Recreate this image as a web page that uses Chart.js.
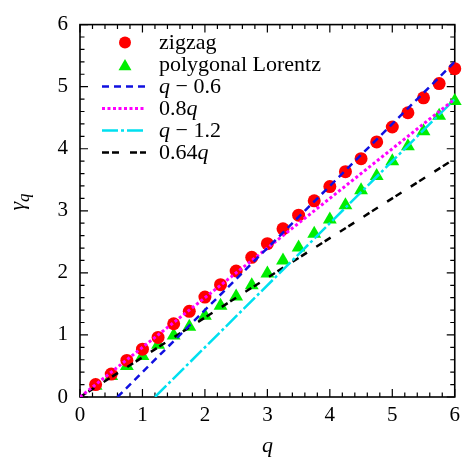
<!DOCTYPE html>
<html><head><meta charset="utf-8">
<script src="https://cdn.jsdelivr.net/npm/chart.js@4/dist/chart.umd.min.js"></script>
<style>html,body{margin:0;padding:0;background:#fff}#wrap{width:466px;height:459px}</style>
</head><body><div id="wrap"><canvas id="c" width="466" height="459"></canvas></div>
<script>
// ---- data ----
const qValues = [0.25,0.5,0.75,1,1.25,1.5,1.75,2,2.25,2.5,2.75,3,3.25,3.5,3.75,4,4.25,4.5,4.75,5,5.25,5.5,5.75,6];
const zigzag = [0.20,0.37,0.59,0.77,0.96,1.18,1.38,1.61,1.81,2.03,2.25,2.47,2.71,2.93,3.16,3.39,3.63,3.84,4.11,4.35,4.58,4.82,5.05,5.29];
const polygonalLorentz = [0.18,0.34,0.50,0.66,0.84,0.99,1.13,1.31,1.47,1.62,1.80,1.99,2.20,2.41,2.63,2.86,3.09,3.33,3.56,3.80,4.04,4.28,4.53,4.77];
const lineQminus06 = [[0.6,0],[6,5.4]];
const line08q = [[0,0],[6,4.8]];
const lineQminus12 = [[1.2,0],[6,4.8]];
const line064q = [[0,0],[6,3.84]];
const xTicks = [0,1,2,3,4,5,6];
const yTicks = [0,1,2,3,4,5,6];
const seriesLabels = ['zigzag','polygonal Lorentz','q − 0.6','0.8q','q − 1.2','0.64q'];

const SERIF = '"Liberation Serif", "DejaVu Serif", serif';
const pts = (xs, ys) => xs.map((x, i) => ({x, y: ys[i]}));
const seg = a => a.map(p => ({x: p[0], y: p[1]}));

const datasets = [
  {label: seriesLabels[0], data: pts(qValues, zigzag), pointStyle: 'circle', pointRadius: 6.5,
   backgroundColor: '#ff0000', borderWidth: 0, showLine: false, order: 2, clip: false},
  {label: seriesLabels[1], data: pts(qValues, polygonalLorentz), pointStyle: 'triangle', pointRadius: 8,
   backgroundColor: '#00ee00', borderWidth: 0, showLine: false, order: 2, clip: false},
  {label: seriesLabels[2], data: seg(lineQminus06), showLine: true, pointRadius: 0,
   borderColor: '#1010e0', borderWidth: 2.5, borderDash: [7,5], order: 1},
  {label: seriesLabels[3], data: seg(line08q), showLine: true, pointRadius: 0,
   borderColor: '#ff00ff', borderWidth: 3, borderDash: [3,2.5], order: 1},
  {label: seriesLabels[4], data: seg(lineQminus12), showLine: true, pointRadius: 0,
   borderColor: '#00e0f0', borderWidth: 2.5, borderDash: [16,3,3,3], order: 1},
  {label: seriesLabels[5], data: seg(line064q), showLine: true, pointRadius: 0,
   borderColor: '#000000', borderWidth: 2.5, borderDash: [7,3,7,11], order: 1}
];

function drawMarker(ctx, style, r, color, x, y) {
  ctx.fillStyle = color;
  ctx.beginPath();
  if (style === 'circle') {
    ctx.arc(x, y, r, 0, Math.PI * 2);
  } else {
    for (let k = 0; k < 3; k++) {
      const a = k * 2 * Math.PI / 3;
      const px = x + Math.sin(a) * r, py = y - Math.cos(a) * r;
      k ? ctx.lineTo(px, py) : ctx.moveTo(px, py);
    }
    ctx.closePath();
  }
  ctx.fill();
}

function drawMixed(ctx, text, x, y, size) {
  let cx = x;
  for (const ch of text) {
    ctx.font = (ch === 'q' ? 'italic ' : '') + size + 'px ' + SERIF;
    ctx.fillText(ch, cx, y);
    cx += ctx.measureText(ch).width;
  }
}

const framePlugin = {
  id: 'frame',
  beforeDatasetsDraw(chart) {
    const {ctx, chartArea: a, scales: {x, y}} = chart;
    ctx.save();
    ctx.strokeStyle = '#000';
    ctx.lineWidth = 1.2;
    ctx.beginPath();
    for (let i = 0; i <= 30; i++) {
      const v = i / 5, L = (i % 5 === 0) ? 8 : 4.5;
      const px = x.getPixelForValue(v), py = y.getPixelForValue(v);
      ctx.moveTo(px, a.bottom); ctx.lineTo(px, a.bottom - L);
      ctx.moveTo(px, a.top); ctx.lineTo(px, a.top + L);
      ctx.moveTo(a.left, py); ctx.lineTo(a.left + L, py);
      ctx.moveTo(a.right, py); ctx.lineTo(a.right - L, py);
    }
    ctx.stroke();
    ctx.lineWidth = 1.6;
    ctx.strokeRect(a.left, a.top, a.right - a.left, a.bottom - a.top);
    ctx.restore();
  },
  afterDraw(chart) {
    const {ctx, chartArea: a} = chart;
    ctx.save();
    ctx.fillStyle = '#000';
    // legend
    const rowH = 22;
    chart.data.datasets.forEach((ds, i) => {
      const ry = a.top + 18 + i * rowH;
      if (ds.showLine) {
        ctx.save();
        ctx.strokeStyle = ds.borderColor;
        ctx.lineWidth = ds.borderWidth;
        ctx.setLineDash(ds.borderDash || []);
        ctx.beginPath(); ctx.moveTo(102, ry); ctx.lineTo(146, ry); ctx.stroke();
        ctx.restore();
      } else {
        drawMarker(ctx, ds.pointStyle, ds.pointStyle === 'circle' ? 6 : 7.5, ds.backgroundColor, 125, ds.pointStyle === 'circle' ? ry : ry + 2);
      }
      ctx.fillStyle = '#000';
      ctx.textBaseline = 'alphabetic';
      ctx.textAlign = 'left';
      drawMixed(ctx, ds.label, 159, ry + 6, 22);
    });
    // x title
    ctx.font = 'italic 22px ' + SERIF;
    ctx.textAlign = 'center';
    ctx.textBaseline = 'alphabetic';
    ctx.fillText('q', (a.left + a.right) / 2, 452);
    // y title
    ctx.translate(24, 202);
    ctx.rotate(-Math.PI / 2);
    ctx.textAlign = 'left';
    ctx.font = 'italic 22px ' + SERIF;
    const wg = ctx.measureText('γ').width;
    ctx.font = 'italic 17px ' + SERIF;
    const wq = ctx.measureText('q').width;
    const s = -(wg + wq) / 2;
    ctx.font = 'italic 22px ' + SERIF;
    ctx.fillText('γ', s, 0);
    ctx.font = 'italic 17px ' + SERIF;
    ctx.fillText('q', s + wg, 5);
    ctx.restore();
  }
};

new Chart(document.getElementById('c'), {
  type: 'scatter',
  data: {datasets},
  options: {
    responsive: false,
    devicePixelRatio: 1,
    animation: false,
    layout: {padding: {top: 16, right: 6, left: 0, bottom: 0}},
    plugins: {legend: {display: false}, tooltip: {enabled: false}},
    scales: {
      x: {
        type: 'linear', min: 0, max: 6,
        grid: {display: false, drawTicks: false}, border: {display: false},
        afterBuildTicks: s => { s.ticks = xTicks.map(v => ({value: v})); },
        afterFit: s => { s.height = 62; },
        ticks: {font: {family: SERIF, size: 21}, color: '#000', padding: 6, maxRotation: 0, autoSkip: false}
      },
      y: {
        type: 'linear', min: 0, max: 6,
        grid: {display: false, drawTicks: false}, border: {display: false},
        afterBuildTicks: s => { s.ticks = yTicks.map(v => ({value: v})); },
        afterFit: s => { s.width = 80; },
        ticks: {font: {family: SERIF, size: 21}, color: '#000', padding: 12, autoSkip: false}
      }
    }
  },
  plugins: [framePlugin]
});
</script>
</body></html>
